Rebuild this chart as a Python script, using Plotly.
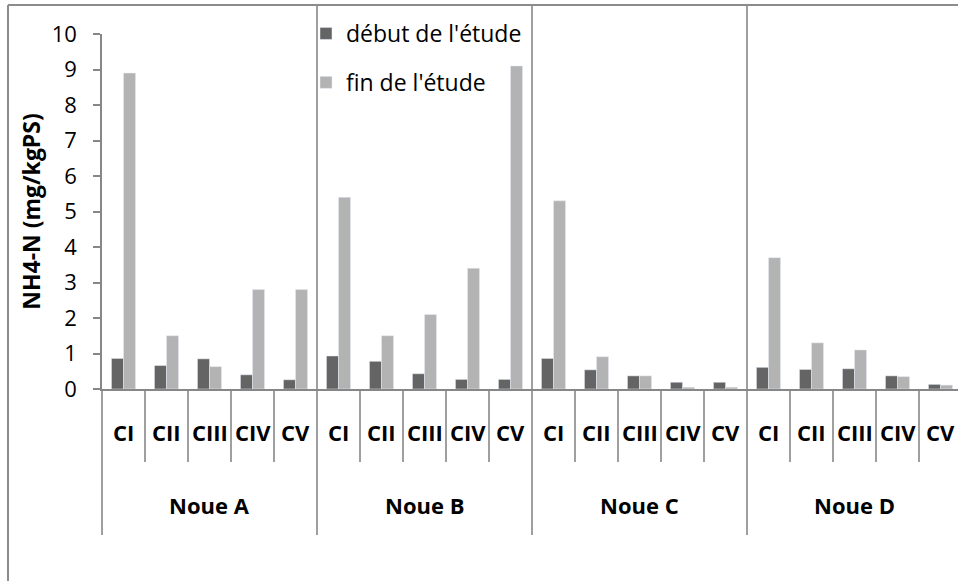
import plotly.graph_objects as go

# Sampling points per swale and their NH4-N values (mg/kgPS)
groups = ["Noue A", "Noue B", "Noue C", "Noue D"]
cats = ["CI", "CII", "CIII", "CIV", "CV"]
debut = [0.86, 0.66, 0.85, 0.40, 0.26,
         0.93, 0.78, 0.43, 0.27, 0.27,
         0.86, 0.54, 0.37, 0.19, 0.19,
         0.61, 0.55, 0.57, 0.37, 0.13]
fin = [8.9, 1.5, 0.63, 2.8, 2.8,
       5.4, 1.5, 2.1, 3.4, 9.1,
       5.3, 0.91, 0.37, 0.05, 0.05,
       3.7, 1.3, 1.1, 0.35, 0.11]

n_cat = len(groups) * len(cats)
xpos = list(range(n_cat))
x_range = [-0.5, -0.5 + 856 / 43]

FONT = "Open Sans"
AXIS_COL = "#878787"

fig = go.Figure()
fig.add_trace(go.Bar(x=xpos, y=debut, name="début de l'étude",
                     marker=dict(color="#646464"), legendgroup="a"))
fig.add_trace(go.Bar(x=xpos, y=fin, name="fin de l'étude",
                     marker=dict(color="#b3b3b3"), legendgroup="b"))


def xp(v):
    return (v - x_range[0]) / (x_range[1] - x_range[0])


shapes = []
annotations = []
n_per = len(cats)
for g, gname in enumerate(groups):
    left = g * n_per - 0.5
    # group separator
    y_top = 1.079 if g > 0 else 0
    shapes.append(dict(type="line", xref="paper", yref="paper",
                       x0=xp(left), x1=xp(left), y0=y_top, y1=-0.4113,
                       line=dict(color=AXIS_COL, width=1.6)))
    # category separators
    for k in range(1, n_per):
        b = left + k
        shapes.append(dict(type="line", xref="paper", yref="paper",
                           x0=xp(b), x1=xp(b), y0=0, y1=-0.2056,
                           line=dict(color=AXIS_COL, width=1.6)))
    for k, c in enumerate(cats):
        annotations.append(dict(x=g * n_per + k, y=-0.1211, xref="x", yref="paper",
                                text=c, showarrow=False,
                                font=dict(family=FONT, size=22, color="black", weight="bold"),
                                xanchor="center", yanchor="middle"))
    annotations.append(dict(x=g * n_per + (n_per - 1) / 2, y=-0.3268, xref="x", yref="paper",
                            text=gname, showarrow=False,
                            font=dict(family=FONT, size=22, color="black", weight="bold"),
                            xanchor="center", yanchor="middle"))

# outer chart frame (top and left edges)
shapes.append(dict(type="line", xref="paper", yref="paper",
                   x0=-0.1098, x1=1.01, y0=1.0817, y1=1.0817,
                   line=dict(color="#8c8c8c", width=2)))
shapes.append(dict(type="line", xref="paper", yref="paper",
                   x0=-0.1098, x1=-0.1098, y0=1.0817, y1=-0.56,
                   line=dict(color="#8c8c8c", width=2)))

fig.update_layout(
    width=958, height=581, autosize=False,
    margin=dict(l=102, r=0, t=34, b=192, pad=0),
    paper_bgcolor="white", plot_bgcolor="white",
    bargap=0.44, bargroupgap=0, barmode="group",
    font=dict(family=FONT, color="black"),
    shapes=shapes, annotations=annotations,
    showlegend=True,
    legend=dict(x=(306 - 102) / 856, y=(389 - 12) / 355, xanchor="left", yanchor="top",
                bgcolor="rgba(0,0,0,0)", font=dict(family=FONT, size=23, color="black"),
                tracegroupgap=16, traceorder="grouped"),
    xaxis=dict(range=x_range, showline=True, linecolor=AXIS_COL, linewidth=1.6,
               showticklabels=False, ticks="", showgrid=False, zeroline=False),
    yaxis=dict(range=[0, 10], dtick=1, tick0=0, showline=True, linecolor=AXIS_COL,
               linewidth=1.6, ticks="outside", ticklen=7, tickcolor=AXIS_COL, tickwidth=1.6,
               showgrid=False, zeroline=False, ticklabelstandoff=12,
               tickfont=dict(family=FONT, size=22, color="black"),
               title=dict(text="NH4-N (mg/kgPS)", standoff=5,
                          font=dict(family=FONT, size=23, color="black", weight="bold"))),
)

fig.write_html("out.html")
